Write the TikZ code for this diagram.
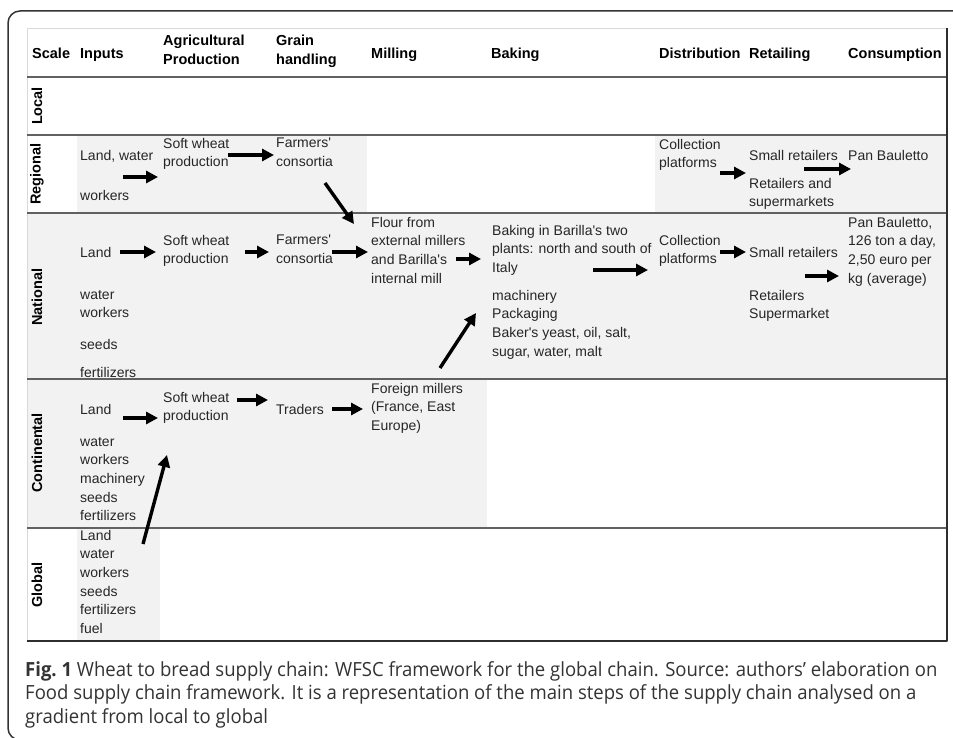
\documentclass[tikz,border=0pt]{standalone}
\usepackage{fontspec}
\usetikzlibrary{arrows.meta}
\newfontfamily\arialf{Liberation Sans}
\newfontfamily\capf[FakeStretch=0.95]{Open Sans}
\newcommand\cellfont{\arialf\fontsize{14}{18.6}\selectfont}
\newcommand\headfont{\arialf\bfseries\fontsize{14.5}{19}\selectfont}
\newcommand\capfont{\capf\fontsize{19.5}{24}\selectfont}
\newcommand\ap{\textquotesingle}
\tikzset{
  cell/.style={anchor=north west, inner sep=0pt, align=left, font=\cellfont, text=black!85, execute at begin node=\strut},
  head/.style={cell, font=\headfont, text=black},
  scalelab/.style={rotate=90, inner sep=0pt, font=\headfont},
  flow/.style={-{Triangle[length=12pt,width=12pt]}, line width=3.4pt},
  rowline/.style={draw=black!62, line width=1.3pt},
  edge/.style={draw=black!82, line width=2.2pt},
  shade/.style={fill=black!5},
  capline/.style={anchor=base west, inner sep=0pt, font=\capfont, text=black!80}
}
\begin{document}
\begin{tikzpicture}[x=1pt, y=-1pt, line join=round]
\useasboundingbox (0,0) rectangle (953,738);
\fill[white] (0,0) rectangle (953,738);
% frame round table and caption
\draw[black!80, line width=1.5pt, rounded corners=12pt] (8,11) rectangle (990,740);
% shaded cells
\fill[shade] (77,136) rectangle (367,213);
\fill[shade] (655,136) rectangle (947,213);
\fill[shade] (27,213) rectangle (947,379);
\fill[shade] (27,379) rectangle (487,528);
\fill[shade] (77,528) rectangle (160,641);
% table rules
\draw[black!15, line width=0.8pt] (27,641) -- (27,28) -- (947,28);
\foreach \yr in {77,135,213,379,528}
  \draw[rowline] (27,\yr) -- (947,\yr);
\draw[edge] (27,641) -- (947,641) -- (947,28);
% header
\node[head] (hScale) at (32,45) {Scale};
\node[head] (hInputs) at (80,45) {Inputs};
\node[head] (hAgri) at (163,35) {Agricultural\\Production};
\node[head] (hGrain) at (276,35) {Grain\\handling};
\node[head] (hMill) at (371,45) {Milling};
\node[head] (hBake) at (491,45) {Baking};
\node[head] (hDist) at (659,45) {Distribution};
\node[head] (hRet) at (749,45) {Retailing};
\node[head] (hCons) at (848,45) {Consumption};
% scale labels
\node[scalelab] (sLocal) at (37,106) {Local};
\node[scalelab] (sReg) at (37,174) {Regional};
\node[scalelab] (sNat) at (37,297) {National};
\node[scalelab] (sCont) at (37,453) {Continental};
\node[scalelab] (sGlob) at (37,585) {Global};
% regional
\node[cell] (inLandR) at (80,147) {Land, water};
\node[cell] (inWorkR) at (80,187) {workers};
\node[cell] (agR) at (163,138) {Soft wheat\\production};
\node[cell] (grR) at (276,138) {Farmers\ap\\consortia};
\node[cell] (diR) at (659,139) {Collection\\platforms};
\node[cell] (reSmR) at (749,147) {Small retailers};
\node[cell] (reSupR) at (749,178) {Retailers and\\supermarkets};
\node[cell] (coR) at (848,147) {Pan Bauletto};
% national
\node[cell] (inLandN) at (80,244) {Land};
\node[cell] (inWaterN) at (80,290) {water\\workers};
\node[cell] (inSeedN) at (80,336) {seeds};
\node[cell] (inFertN) at (80,364) {fertilizers};
\node[cell] (agN) at (163,235) {Soft wheat\\production};
\node[cell] (grN) at (276,235) {Farmers\ap\\consortia};
\node[cell] (miN) at (371,217) {Flour from\\external millers\\and Barilla\ap s\\internal mill};
\node[cell] (baN) at (492,225) {Baking in Barilla\ap s two\\plants: north and south of\\Italy};
\node[cell] (baInN) at (492,290) {machinery\\Packaging\\Baker\ap s yeast, oil, salt,\\sugar, water, malt};
\node[cell] (diN) at (659,235) {Collection\\platforms};
\node[cell] (reSmN) at (749,244) {Small retailers};
\node[cell] (reSupN) at (749,290) {Retailers\\Supermarket};
\node[cell] (coN) at (848,217) {Pan Bauletto,\\126 ton a day,\\2,50 euro per\\kg (average)};
% continental
\node[cell] (inLandC) at (80,401) {Land};
\node[cell] (inRestC) at (80,437) {water\\workers\\machinery\\seeds\\fertilizers};
\node[cell] (agC) at (163,392) {Soft wheat\\production};
\node[cell] (grC) at (276,401) {Traders};
\node[cell] (miC) at (371,383) {Foreign millers\\(France, East\\Europe)};
% global
\node[cell] (inG) at (80,530) {Land\\water\\workers\\seeds\\fertilizers\\fuel};
% arrow ends
\coordinate (r1a) at (123,177); \coordinate (r1b) at (158,177);
\coordinate (r2a) at (228,155); \coordinate (r2b) at (274,155);
\coordinate (r3a) at (325,183); \coordinate (r3b) at (354,224);
\coordinate (r4a) at (720,173); \coordinate (r4b) at (746,173);
\coordinate (r5a) at (804,169); \coordinate (r5b) at (851,169);
\coordinate (n1a) at (120,252); \coordinate (n1b) at (156,252);
\coordinate (n2a) at (245,252); \coordinate (n2b) at (269,252);
\coordinate (n3a) at (332,252); \coordinate (n3b) at (368,252);
\coordinate (n4a) at (456,259); \coordinate (n4b) at (481,259);
\coordinate (n5a) at (440,368); \coordinate (n5b) at (476,313);
\coordinate (n6a) at (593,270); \coordinate (n6b) at (648,270);
\coordinate (n7a) at (720,252); \coordinate (n7b) at (746,252);
\coordinate (n8a) at (805,276); \coordinate (n8b) at (839,276);
\coordinate (c1a) at (123,418); \coordinate (c1b) at (158,418);
\coordinate (c2a) at (237,400); \coordinate (c2b) at (268,400);
\coordinate (c3a) at (332,409); \coordinate (c3b) at (363,409);
\coordinate (g1a) at (143,544); \coordinate (g1b) at (167,455);
\foreach \s in {r1,r2,r3,r4,r5,n1,n2,n3,n4,n5,n6,n7,n8,c1,c2,c3,g1}
  \draw[flow] (\s a) -- (\s b);
% caption
\node[capline] (cap1) at (25,676) {\textbf{Fig.\ 1} Wheat to bread supply chain: WFSC framework for the global chain. Source: authors’ elaboration on};
\node[capline] (cap2) at (25,699.5) {Food supply chain framework. It is a representation of the main steps of the supply chain analysed on a};
\node[capline] (cap3) at (25,723) {gradient from local to global};
\end{tikzpicture}
\end{document}
